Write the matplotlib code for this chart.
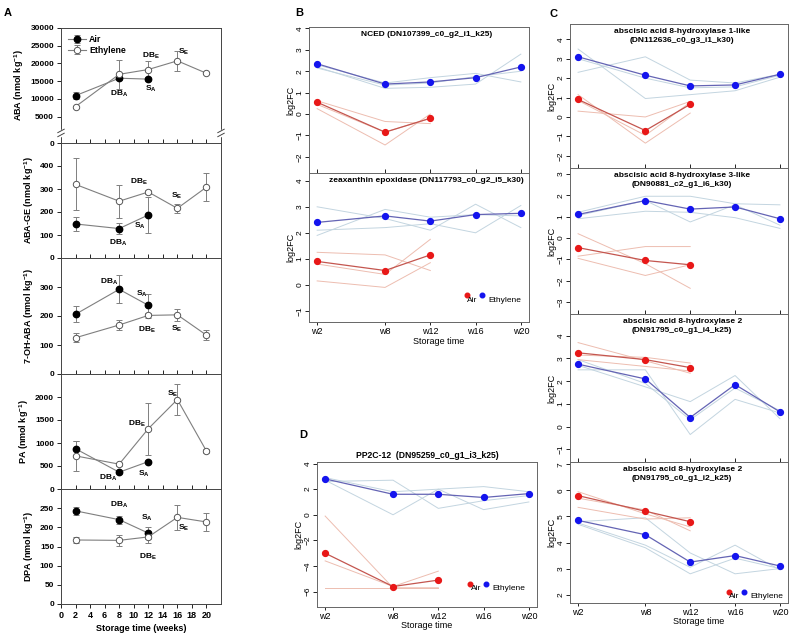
import matplotlib
matplotlib.use('Agg')
import matplotlib.pyplot as plt

plt.rcParams['font.family'] = ['Liberation Sans', 'DejaVu Sans']
plt.rcParams['mathtext.fontset'] = 'custom'
plt.rcParams['mathtext.rm'] = 'Liberation Sans'
plt.rcParams['mathtext.bf'] = 'Liberation Sans:bold'

# ---------------- panel A data (SigmaPlot style) ----------------
weeks_air = [2, 8, 12]
weeks_eth = [2, 8, 12, 16, 20]

aba_air = [10950, 15850, 15600]
aba_air_err = [1000, 500, 500]
aba_eth = [7850, 16950, 18300, 20750, 17250]
aba_eth_err = [300, 4000, 2500, 2750, 300]

abage_air = [148, 128, 187]
abage_air_err = [30, 24, 78]
abage_eth = [320, 247, 287, 216, 308]
abage_eth_err = [113, 72, 10, 20, 60]

ohaba_air = [206, 292, 237]
ohaba_air_err = [27, 48, 38]
ohaba_eth = [125, 169, 202, 204, 134]
ohaba_eth_err = [15, 18, 8, 20, 18]

pa_air = [875, 365, 595]
pa_air_err = [165, 30, 40]
pa_eth = [720, 540, 1310, 1945, 825]
pa_eth_err = [320, 30, 570, 340, 40]

dpa_air = [243, 220, 185]
dpa_air_err = [11, 10, 15]
dpa_eth = [167, 166, 175, 226, 214]
dpa_eth_err = [8, 14, 15, 33, 23]

# stage labels: (text, week, value)
aba_notes = [('DB$_\\mathbf{A}$', 8.0, 11400), ('S$_\\mathbf{A}$', 12.3, 12800),
             ('DB$_\\mathbf{E}$', 12.3, 22250), ('S$_\\mathbf{E}$', 16.8, 23200)]
abage_notes = [('DB$_\\mathbf{A}$', 7.9, 65), ('S$_\\mathbf{A}$', 10.9, 140),
               ('DB$_\\mathbf{E}$', 10.7, 330), ('S$_\\mathbf{E}$', 15.9, 270)]
ohaba_notes = [('DB$_\\mathbf{A}$', 6.6, 318), ('S$_\\mathbf{A}$', 11.1, 278),
               ('DB$_\\mathbf{E}$', 11.8, 154), ('S$_\\mathbf{E}$', 15.9, 157)]
pa_notes = [('DB$_\\mathbf{A}$', 6.5, 250), ('S$_\\mathbf{A}$', 11.4, 340),
            ('DB$_\\mathbf{E}$', 10.4, 1420), ('S$_\\mathbf{E}$', 15.3, 2070)]
dpa_notes = [('DB$_\\mathbf{A}$', 8.0, 258), ('S$_\\mathbf{A}$', 11.8, 225),
             ('DB$_\\mathbf{E}$', 12.0, 122), ('S$_\\mathbf{E}$', 16.9, 200)]

# ---------------- panels B-D data (log2FC, three replicates + mean) ----------------
weeks = [2, 8, 12, 16, 20]
week_labels = ['w2', 'w8', 'w12', 'w16', 'w20']

nced_air = [0.55, -0.85, -0.2]
nced_air_reps = [[0.62, -0.35, -0.45], [0.25, -1.45, 0.0], [0.45, -0.85, -0.2]]
nced_eth = [2.35, 1.4, 1.5, 1.7, 2.2]
nced_eth_reps = [[2.3, 1.45, 1.7, 1.9, 1.5], [2.2, 1.2, 1.25, 1.4, 2.8], [2.15, 1.35, 1.45, 1.75, 2.0]]

zep_air = [0.9, 0.55, 1.15]
zep_air_reps = [[1.25, 1.15, 0.55], [0.8, 0.4, 1.75], [0.15, -0.1, 0.85]]
zep_eth = [2.4, 2.65, 2.45, 2.7, 2.75]
zep_eth_reps = [[3.0, 2.55, 2.1, 3.1, 2.2], [2.1, 2.2, 2.35, 2.0, 3.05], [1.9, 2.9, 2.6, 2.7, 2.65]]

h1_air = [0.9, -0.7, 0.65]
h1_air_reps = [[0.3, 0.0, 0.8], [1.15, -1.35, 0.2], [0.85, -0.95, 0.75]]
h1_eth = [3.1, 2.15, 1.6, 1.65, 2.2]
h1_eth_reps = [[3.5, 0.95, 1.15, 1.35, 2.05], [2.3, 3.1, 1.9, 1.75, 2.2], [3.0, 2.0, 1.5, 1.55, 2.15]]

h3_air = [-0.45, -1.05, -1.25]
h3_air_reps = [[0.2, -1.2, -2.35], [-0.85, -0.4, -0.4], [-0.95, -1.75, -1.25]]
h3_eth = [1.1, 1.75, 1.35, 1.45, 0.9]
h3_eth_reps = [[1.2, 1.95, 1.95, 1.6, 1.55], [0.9, 1.25, 1.2, 0.95, 0.45], [1.05, 1.75, 0.75, 1.55, 0.6]]

h2a_air = [3.25, 2.95, 2.6]
h2a_air_reps = [[3.7, 2.9, 2.35], [3.15, 3.05, 2.8], [2.95, 2.65, 2.45]]
h2a_eth = [2.75, 2.1, 0.4, 1.85, 0.65]
h2a_eth_reps = [[2.5, 2.5, -0.35, 1.2, 0.6], [2.7, 1.75, 1.1, 2.25, 0.35], [2.95, 1.9, 0.3, 1.7, 0.7]]

h2b_air = [5.8, 5.2, 4.8]
h2b_air_reps = [[5.95, 5.1, 4.6], [5.7, 5.25, 4.45], [5.35, 4.9, 4.95]]
h2b_eth = [4.85, 4.3, 3.25, 3.5, 3.1]
h2b_eth_reps = [[4.8, 4.95, 3.6, 2.8, 3.0], [4.75, 3.9, 3.05, 3.9, 2.95], [4.7, 3.8, 2.8, 3.4, 3.0]]

pp2c_air = [-3.0, -5.6, -5.1]
pp2c_air_reps = [[-0.1, -5.7, -5.7], [-3.6, -5.6, -4.4], [-5.7, -5.7, -5.7]]
pp2c_eth = [2.8, 1.6, 1.6, 1.35, 1.65]
pp2c_eth_reps = [[2.6, 2.7, 0.5, 1.1, 1.5], [2.7, 0.0, 2.0, 2.2, 1.8], [2.9, 1.8, 2.0, 0.4, 1.0]]

W, H = 794, 633
fig = plt.figure(figsize=(W / 100, H / 100), dpi=100)


def box(l, t, r, b):
    return fig.add_axes([l / W, 1 - b / H, (r - l) / W, (b - t) / H])


grey = '#7f7f7f'


def a_panel(ax, air, air_err, eth, eth_err, notes, ylabel, ylim, yticks, last=False):
    ax.errorbar(weeks_air, air, yerr=air_err, fmt='-o', color=grey, lw=0.8, ms=4.6,
                mfc='black', mec='black', ecolor=grey, elinewidth=0.7, capsize=2, capthick=0.7,
                label='Air', zorder=3)
    ax.errorbar(weeks_eth, eth, yerr=eth_err, fmt='-o', color=grey, lw=0.8, ms=4.6,
                mfc='white', mec='#555555', mew=0.7, ecolor=grey, elinewidth=0.7, capsize=2,
                capthick=0.7, label='Ethylene', zorder=3)
    for txt, x, y in notes:
        ax.text(x, y, txt, fontsize=6, fontweight='bold', ha='center', va='center')
    ax.set_xlim(0, 22)
    ax.set_ylim(*ylim)
    ax.set_yticks(yticks)
    ax.set_xticks(range(0, 21, 2))
    ax.set_ylabel(ylabel, fontsize=6.5, fontweight='bold', labelpad=3)
    ax.tick_params(axis='y', direction='out', length=3, width=0.6, labelsize=6, pad=2)
    for lab in ax.get_yticklabels():
        lab.set_fontweight('bold')
    if last:
        ax.tick_params(axis='x', direction='out', length=3, width=0.6, labelsize=6.5, pad=2)
        for lab in ax.get_xticklabels():
            lab.set_fontweight('bold')
        ax.set_xlabel('Storage time (weeks)', fontsize=6.5, fontweight='bold', labelpad=3)
    else:
        ax.tick_params(axis='x', direction='in', length=3, width=0.6, labelbottom=False)
    for sp in ax.spines.values():
        sp.set_linewidth(0.7)
        sp.set_color('#444444')


# ---- Panel A ----
axA1 = box(61, 28, 221, 143)
a_panel(axA1, aba_air, aba_air_err, aba_eth, aba_eth_err, aba_notes,
        'ABA (nmol kg$^{\\mathbf{-1}}$)', (-2400, 30000), [-2400, 5000, 10000, 15000, 20000, 25000, 30000])
axA1.set_yticklabels(['0', '5000', '10000', '15000', '20000', '25000', '30000'])
axA1.legend(loc='upper left', frameon=False, prop={'size': 6.3, 'weight': 'bold'}, handlelength=2,
            borderaxespad=0.4, labelspacing=0.2, handletextpad=0.4)
# axis break marks
for xb in (0, 1):
    axA1.plot([xb, xb], [0.07, 0.105], color='white', lw=2.5, transform=axA1.transAxes, clip_on=False, zorder=5)
    for dy in (0.0, 0.035):
        axA1.plot([xb - 0.02, xb + 0.02], [0.055 + dy, 0.085 + dy], color='#444444', lw=0.7,
                  transform=axA1.transAxes, clip_on=False, zorder=6)

axA2 = box(61, 143, 221, 258)
a_panel(axA2, abage_air, abage_air_err, abage_eth, abage_eth_err, abage_notes,
        'ABA-GE (nmol kg$^{\\mathbf{-1}}$)', (0, 500), [0, 100, 200, 300, 400])
axA3 = box(61, 258, 221, 374)
a_panel(axA3, ohaba_air, ohaba_air_err, ohaba_eth, ohaba_eth_err, ohaba_notes,
        '7-OH-ABA (nmol kg$^{\\mathbf{-1}}$)', (0, 400), [0, 100, 200, 300])
axA4 = box(61, 374, 221, 489)
a_panel(axA4, pa_air, pa_air_err, pa_eth, pa_eth_err, pa_notes,
        'PA (nmol kg$^{\\mathbf{-1}}$)', (0, 2500), [0, 500, 1000, 1500, 2000])
axA5 = box(61, 489, 221, 604)
a_panel(axA5, dpa_air, dpa_air_err, dpa_eth, dpa_eth_err, dpa_notes,
        'DPA (nmol kg$^{\\mathbf{-1}}$)', (0, 300), [0, 50, 100, 150, 200, 250], last=True)

# ---- R style panels ----
red, blue = '#e81818', '#1414ee'
red_rep, blue_rep = '#edbdb0', '#c3d5e0'
red_mean, blue_mean = '#c4564f', '#6464b4'


def r_panel(ax, air, air_reps, eth, eth_reps, ylim, yticks, title=None, title_x=0.5,
            bottom=False, xlabel_x=0.5):
    for rep in eth_reps:
        ax.plot(weeks, rep, color=blue_rep, lw=0.7)
    for rep in air_reps:
        ax.plot(weeks[:3], rep, color=red_rep, lw=0.7)
    ax.plot(weeks, eth, color=blue_mean, lw=0.9)
    ax.plot(weeks[:3], air, color=red_mean, lw=0.9)
    ax.plot(weeks, eth, 'o', color=blue, ms=4.2, zorder=4)
    ax.plot(weeks[:3], air, 'o', color=red, ms=4.2, zorder=4)
    ax.set_xlim(1.28, 20.72)
    ax.set_ylim(*ylim)
    ax.set_yticks(yticks)
    ax.set_xticks(weeks)
    ax.tick_params(axis='y', direction='out', length=3, width=0.6, labelsize=6, pad=1,
                   labelrotation=90)
    for lab in ax.get_yticklabels():
        lab.set_verticalalignment('center')
    ax.set_ylabel('log2FC', fontsize=6.5, labelpad=1)
    if bottom:
        ax.set_xticklabels(week_labels)
        ax.tick_params(axis='x', direction='out', length=2.5, width=0.6, labelsize=6.5, pad=1)
        ax.text(xlabel_x, -0.1, 'Storage time', transform=ax.transAxes, fontsize=6.5,
                ha='center', va='top')
    else:
        ax.tick_params(axis='x', direction='in', length=3, width=0.6, labelbottom=False)
    if title:
        ax.annotate(title, (title_x, 1), xycoords='axes fraction', xytext=(0, -3),
                    textcoords='offset points', ha='center', va='top', fontsize=6,
                    fontweight='bold', linespacing=1.35)
    for sp in ax.spines.values():
        sp.set_linewidth(0.7)
        sp.set_color('#666666')


def r_legend(ax, fx, fy, gap):
    ax.plot(fx, fy, 'o', color=red, ms=3.3, transform=ax.transAxes, clip_on=False)
    ax.annotate('Air', (fx, fy), xycoords='axes fraction', xytext=(0.5, -3.5),
                textcoords='offset points', ha='left', va='center', fontsize=6)
    ax.plot(fx + gap, fy, 'o', color=blue, ms=3.3, transform=ax.transAxes, clip_on=False)
    ax.annotate('Ethylene', (fx + gap, fy), xycoords='axes fraction', xytext=(4.5, -3.5),
                textcoords='offset points', ha='left', va='center', fontsize=6)


# ---- Panel B ----
axB1 = box(309, 27, 529, 173)
r_panel(axB1, nced_air, nced_air_reps, nced_eth, nced_eth_reps, (-2.76, 4.07), range(-2, 5),
        title='NCED (DN107399_c0_g2_i1_k25)', title_x=0.535)
axB2 = box(309, 173, 529, 322)
r_panel(axB2, zep_air, zep_air_reps, zep_eth, zep_eth_reps, (-1.43, 4.3), range(-1, 5),
        title='zeaxanthin epoxidase (DN117793_c0_g2_i5_k30)', title_x=0.535,
        bottom=True, xlabel_x=0.59)
r_legend(axB2, 0.716, 0.18, 0.072)

# ---- Panel C ----
axC1 = box(570, 24, 788, 168)
r_panel(axC1, h1_air, h1_air_reps, h1_eth, h1_eth_reps, (-2.63, 4.79), range(-2, 5),
        title='abscisic acid 8-hydroxylase 1-like\n(DN112636_c0_g3_i1_k30)', title_x=0.515)
axC2 = box(570, 168, 788, 314)
r_panel(axC2, h3_air, h3_air_reps, h3_eth, h3_eth_reps, (-3.55, 3.27), range(-3, 4),
        title='abscisic acid 8-hydroxylase 3-like\n(DN90881_c2_g1_i6_k30)', title_x=0.515)
axC3 = box(570, 314, 788, 462)
r_panel(axC3, h2a_air, h2a_air_reps, h2a_eth, h2a_eth_reps, (-1.56, 4.96), range(-1, 5),
        title='abscisic acid 8-hydroxylase 2\n(DN91795_c0_g1_i4_k25)', title_x=0.515)
axC4 = box(570, 462, 788, 603)
r_panel(axC4, h2b_air, h2b_air_reps, h2b_eth, h2b_eth_reps, (1.68, 7.09), range(2, 8),
        title='abscisic acid 8-hydroxylase 2\n(DN91795_c0_g1_i2_k25)', title_x=0.515,
        bottom=True, xlabel_x=0.59)
r_legend(axC4, 0.728, 0.078, 0.072)

# ---- Panel D ----
axD = box(317, 462, 537, 607)
r_panel(axD, pp2c_air, pp2c_air_reps, pp2c_eth, pp2c_eth_reps, (-7.2, 4.12), range(-6, 5, 2),
        bottom=True)
axD.set_title('PP2C-12  (DN95259_c0_g1_i3_k25)', fontsize=6.2, fontweight='bold', pad=3)
r_legend(axD, 0.697, 0.16, 0.07)

# panel letters
for letter, x, y in [('A', 8, 13), ('B', 299, 13), ('C', 553, 14), ('D', 303, 435)]:
    fig.text(x / W, 1 - y / H, letter, fontsize=8, fontweight='bold', ha='center', va='center')

fig.savefig('out.png', dpi=100)
